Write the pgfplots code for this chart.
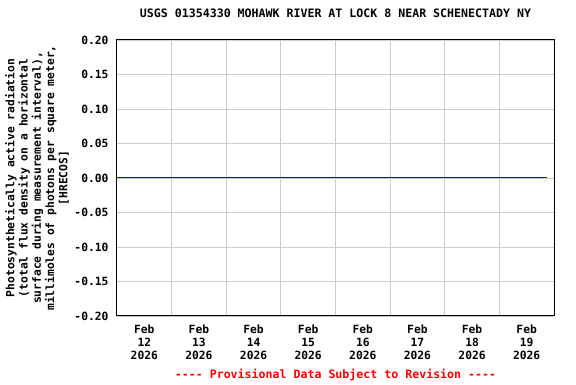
\documentclass[border=0pt]{standalone}
\usepackage{pgfplots}
\pgfplotsset{compat=1.18}
\usepackage{fontspec}
\setmainfont{DejaVu Sans Mono}[BoldFont={DejaVu Sans Mono Bold}, Ligatures=TeXOff]
\newcommand{\uf}{\fontsize{11.3}{13.3}\selectfont\bfseries}
\newcommand{\tf}{\fontsize{11.6}{13.3}\selectfont\bfseries}
\definecolor{gridgray}{RGB}{204,204,204}
\begin{document}
\begin{tikzpicture}
\begin{axis}[
  scale only axis,
  width=437pt, height=276pt,
  xmin=12, xmax=20,
  ymin=-0.2, ymax=0.2,
  xtick={12.5,13.5,14.5,15.5,16.5,17.5,18.5,19.5},
  xticklabels={{Feb\\12\\2026},{Feb\\13\\2026},{Feb\\14\\2026},{Feb\\15\\2026},{Feb\\16\\2026},{Feb\\17\\2026},{Feb\\18\\2026},{Feb\\19\\2026}},
  minor xtick={13,14,15,16,17,18,19},
  ytick={-0.2,-0.15,-0.1,-0.05,0,0.05,0.1,0.15,0.2},
  yticklabel style={/pgf/number format/.cd,fixed,fixed zerofill,precision=2,/tikz/.cd, xshift=-5pt},
  /pgf/number format/assume math mode=true,
  xticklabel style={align=center, yshift=-5pt},
  tick label style={font=\uf},
  major tick length=0pt, minor tick length=0pt,
  xmajorgrids=false, xminorgrids=true, ymajorgrids=true,
  grid style={gridgray, line width=0.8pt},
  minor grid style={gridgray, line width=0.8pt},
  axis line style={black, line width=1pt},
  title={USGS 01354330 MOHAWK RIVER AT LOCK 8 NEAR SCHENECTADY NY},
  title style={font=\tf, at={(axis description cs:0.5,1.058)}, anchor=base},
  xlabel={-{}-{}-{}- Provisional Data Subject to Revision -{}-{}-{}-},
  xlabel style={font=\tf, text=red, at={(axis description cs:0.5,-0.228)}, anchor=base},
  ylabel={Photosynthetically active radiation\\(total flux density on a horizontal\\surface during measurement interval),\\millimoles of photons per square meter,\\{[HRECOS]}},
  ylabel style={font=\uf, align=center, at={(axis description cs:-0.183,0.5)}, anchor=center},
]
\addplot[blue, line width=1pt, mark=none] coordinates {(12,0) (19.875,0)};
\end{axis}
\path[use as bounding box] ([shift={(-117pt,-68pt)}]current axis.south west) rectangle ([shift={(22pt,40pt)}]current axis.north east);
\end{tikzpicture}
\end{document}
